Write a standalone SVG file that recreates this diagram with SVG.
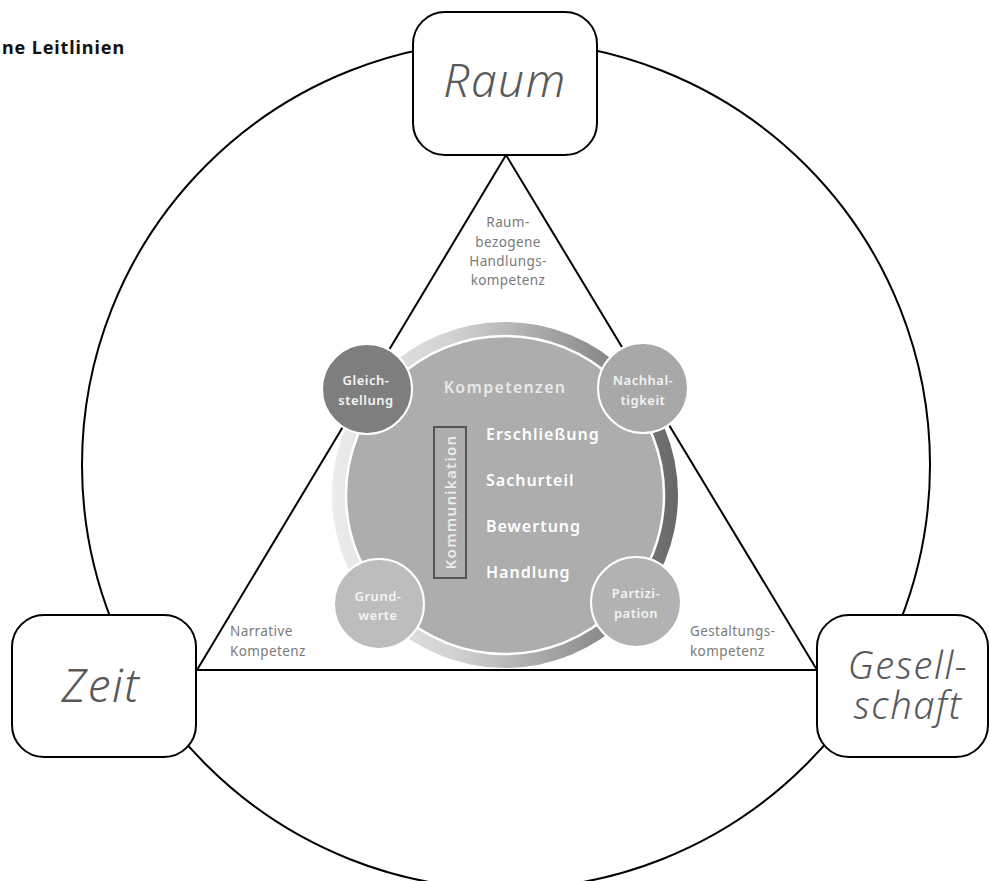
<svg xmlns="http://www.w3.org/2000/svg" width="990" height="881" viewBox="0 0 990 881">
  <defs>
    <linearGradient id="ringGrad" x1="0" y1="0" x2="1" y2="0">
      <stop offset="0" stop-color="#ececec"/>
      <stop offset="0.35" stop-color="#d2d2d2"/>
      <stop offset="1" stop-color="#676767"/>
    </linearGradient>
    <style>
      .line { fill: none; stroke: #000; stroke-width: 2; }
      .box { fill: #fff; stroke: #000; stroke-width: 2; }
      .big { font-family: "Noto Sans", "Open Sans", sans-serif; font-style: italic; font-weight: 300; fill: #595959; text-anchor: middle; }
      .lbl { font-family: "Noto Sans", "Open Sans", sans-serif; font-size: 13.5px; fill: #7a7a7a; letter-spacing: 0.4px; }
      .comp { font-family: "Noto Sans", "Open Sans", sans-serif; font-weight: 600; font-size: 16px; fill: #ffffff; letter-spacing: 1px; }
      .small { font-family: "Noto Sans", "Open Sans", sans-serif; font-weight: 600; font-size: 13px; fill: #f4f4f4; text-anchor: middle; letter-spacing: 0.5px; }
      .sc { stroke: #fff; stroke-width: 2; }
    </style>
  </defs>
  <rect width="990" height="881" fill="#fff"/>

  <text x="125" y="54" text-anchor="end" font-family="Noto Sans, Open Sans, sans-serif" font-weight="700" font-size="18" letter-spacing="0.9" fill="#111">ne Leitlinien</text>

  <g id="connectors">
    <circle class="line" cx="506" cy="465" r="424"/>
    <line class="line" x1="506" y1="155" x2="197" y2="670"/>
    <line class="line" x1="506" y1="155" x2="817" y2="670"/>
    <line class="line" x1="197" y1="670" x2="817" y2="670"/>
  </g>

  <g id="label-raum-kompetenz" class="lbl" text-anchor="middle">
    <text x="508" y="227">Raum-</text>
    <text x="508" y="247">bezogene</text>
    <text x="508" y="266">Handlungs-</text>
    <text x="508" y="285">kompetenz</text>
  </g>
  <g id="label-narrative" class="lbl">
    <text x="230" y="636">Narrative</text>
    <text x="230" y="656">Kompetenz</text>
  </g>
  <g id="label-gestaltung" class="lbl">
    <text x="690" y="636">Gestaltungs-</text>
    <text x="690" y="656">kompetenz</text>
  </g>

  <g id="node-raum">
    <rect class="box" x="413" y="12" width="184" height="143" rx="32"/>
    <text class="big" x="505" y="97" font-size="46" letter-spacing="1.5">Raum</text>
  </g>
  <g id="node-zeit">
    <rect class="box" x="12" y="615" width="184" height="142" rx="32"/>
    <text class="big" x="101" y="702" font-size="46" letter-spacing="1.5">Zeit</text>
  </g>
  <g id="node-gesellschaft">
    <rect class="box" x="817" y="615" width="171" height="142" rx="32"/>
    <text class="big" x="908" y="679" font-size="38" letter-spacing="1.6">Gesell-</text>
    <text class="big" x="908" y="719" font-size="38" letter-spacing="1.6">schaft</text>
  </g>

  <g id="node-kompetenzen">
    <circle cx="505" cy="495" r="173" fill="url(#ringGrad)"/>
    <circle cx="505" cy="495" r="159" fill="#adadad" stroke="#fff" stroke-width="2.5"/>
    <text x="505" y="393" text-anchor="middle" font-family="Noto Sans, Open Sans, sans-serif" font-weight="600" font-size="16" letter-spacing="1.3" fill="#e9e9e9">Kompetenzen</text>
    <text class="comp" x="486" y="440">Erschließung</text>
    <text class="comp" x="486" y="486">Sachurteil</text>
    <text class="comp" x="486" y="532">Bewertung</text>
    <text class="comp" x="486" y="578">Handlung</text>
  </g>

  <g id="node-kommunikation">
    <rect x="434" y="427" width="32" height="151" fill="none" stroke="#555" stroke-width="2"/>
    <text transform="translate(455.5 502) rotate(-90)" text-anchor="middle" font-family="Noto Sans, Open Sans, sans-serif" font-weight="600" font-size="15" letter-spacing="1.3" fill="#ececec">Kommunikation</text>
  </g>

  <g id="node-gleichstellung">
    <circle class="sc" cx="367" cy="389" r="45" fill="#7e7e7e"/>
    <text class="small" x="366" y="385">Gleich-</text>
    <text class="small" x="366" y="405">stellung</text>
  </g>
  <g id="node-nachhaltigkeit">
    <circle class="sc" cx="643" cy="388" r="45" fill="#a8a8a8"/>
    <text class="small" x="643" y="385">Nachhal-</text>
    <text class="small" x="643" y="405">tigkeit</text>
  </g>
  <g id="node-grundwerte">
    <circle class="sc" cx="379" cy="604" r="45" fill="#bdbdbd"/>
    <text class="small" x="378" y="601">Grund-</text>
    <text class="small" x="378" y="620">werte</text>
  </g>
  <g id="node-partizipation">
    <circle class="sc" cx="636" cy="602" r="45" fill="#b2b2b2"/>
    <text class="small" x="636" y="598">Partizi-</text>
    <text class="small" x="636" y="618">pation</text>
  </g>
</svg>
